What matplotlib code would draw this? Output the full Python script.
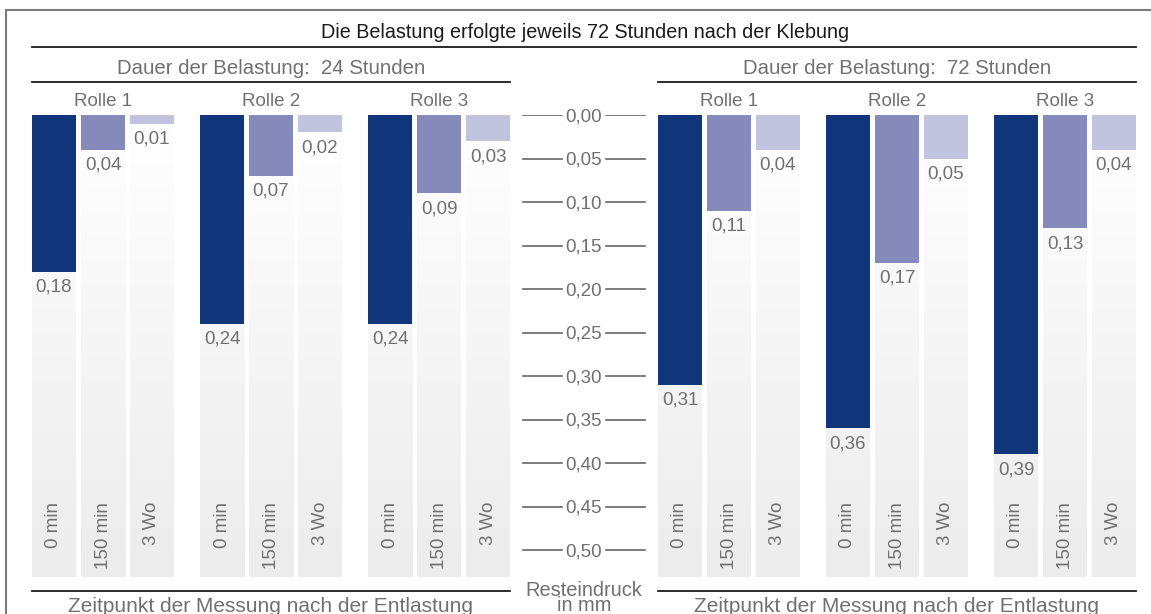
import numpy as np
import matplotlib.pyplot as plt
from matplotlib.colors import LinearSegmentedColormap

plt.rcParams['font.family'] = ['Liberation Sans', 'DejaVu Sans']

# Daten
rollen = ['Rolle 1', 'Rolle 2', 'Rolle 3']
zeitpunkte = ['0 min', '150 min', '3 Wo']
werte_24h = [[0.18, 0.04, 0.01], [0.24, 0.07, 0.02], [0.24, 0.09, 0.03]]
werte_72h = [[0.31, 0.11, 0.04], [0.36, 0.17, 0.05], [0.39, 0.13, 0.04]]
achse_ticks = np.arange(0, 0.501, 0.05)

farben = ['#12367b', '#858abb', '#c2c4df']
grau = '#707070'
fs = 13.5

W, H = 1151, 614
fig = plt.figure(figsize=(W / 100, H / 100), dpi=100)


def px(x0, y0, x1, y1):
    # Pixelbox -> Figurkoordinaten
    return [x0 / W, 1 - y1 / H, (x1 - x0) / W, (y1 - y0) / H]


y_top, y_bot = 115, 577
px_per_mm = 870.0
ymax = (y_bot - y_top) / px_per_mm

def y_val(ypix):
    return (ypix - y_top) / px_per_mm

G = 168 / 49     # Abstand der Gruppen
bw = 44 / 49     # Balkenbreite

grad = np.linspace(0, 1, 256).reshape(-1, 1)
bg_cmap = LinearSegmentedColormap.from_list('bg', ['#ffffff', '#ececec'])


def fmt(v):
    return f'{v:.2f}'.replace('.', ',')


def panel(ax, werte):
    for g, (rolle, vals) in enumerate(zip(rollen, werte)):
        xs = g * G + np.arange(3)
        # Hintergrundbalken mit Verlauf
        for x in xs:
            ax.imshow(grad, extent=(x - bw / 2, x + bw / 2, ymax, 0), origin='upper',
                      aspect='auto', cmap=bg_cmap, zorder=1)
        ax.bar(xs, vals, width=bw, color=farben, zorder=2)
        for x, v in zip(xs, vals):
            ax.annotate(fmt(v), (x, v), xytext=(0, -5), textcoords='offset points',
                        ha='center', va='top', fontsize=fs, color=grau, zorder=3)
        for x, lab in zip(xs, zeitpunkte):
            ax.text(x, y_val(502), lab, rotation=90, ha='center', va='top',
                    fontsize=fs, color=grau, zorder=3)
        ax.text(g * G + 1, y_val(102), rolle, ha='center', va='center',
                fontsize=fs, color=grau, clip_on=False)
    ax.set_xlim(-bw / 2, 2 * G + 2 + bw / 2)
    ax.set_ylim(ymax, 0)
    ax.axis('off')


ax_l = fig.add_axes(px(32, y_top, 510, y_bot))
ax_r = fig.add_axes(px(658, y_top, 1136, y_bot))
panel(ax_l, werte_24h)
panel(ax_r, werte_72h)

# mittlere Achse
ca = fig.add_axes(px(510, y_top, 658, y_bot))
for t in achse_ticks:
    ca.plot([0.09, 0.35], [t, t], color='#666666', lw=1.2)
    ca.plot([0.65, 0.91], [t, t], color='#666666', lw=1.2)
    ca.text(0.5, t + 0.002, fmt(t), ha='center', va='center', fontsize=fs, color=grau)
ca.set_xlim(0, 1)
ca.set_ylim(ymax, 0)
ca.axis('off')

# Rahmen, Überschriften, Linien
ov = fig.add_axes([0, 0, 1, 1], zorder=-1)
ov.set_xlim(0, W)
ov.set_ylim(H, 0)
ov.axis('off')
ov.plot([6, 6, W], [H, 10, 10], color='#7a7a7a', lw=1.5)

ov.text(585, 32, 'Die Belastung erfolgte jeweils 72 Stunden nach der Klebung',
        ha='center', va='center', fontsize=14.2, color='#1a1a1a')
ov.plot([32, 1136], [47, 47], color='#1a1a1a', lw=1.3)

for x0, x1, dauer in [(32, 510, '24'), (658, 1136, '72')]:
    xc = (x0 + x1) / 2
    ov.text(xc, 69, f'Dauer der Belastung:  {dauer} Stunden', ha='center', va='center',
            fontsize=14.7, color=grau)
    ov.plot([x0, x1], [82, 82], color='#1a1a1a', lw=1.3)
    ov.plot([x0, x1], [591, 591], color='#1a1a1a', lw=1.3)
    ov.text(xc, 607, 'Zeitpunkt der Messung nach der Entlastung', ha='center',
            va='center', fontsize=15, color=grau)

ov.text(584, 598, 'Resteindruck\nin mm', ha='center', va='center', fontsize=14.4,
        color=grau, linespacing=0.78)

fig.savefig('out.png', dpi=100)
